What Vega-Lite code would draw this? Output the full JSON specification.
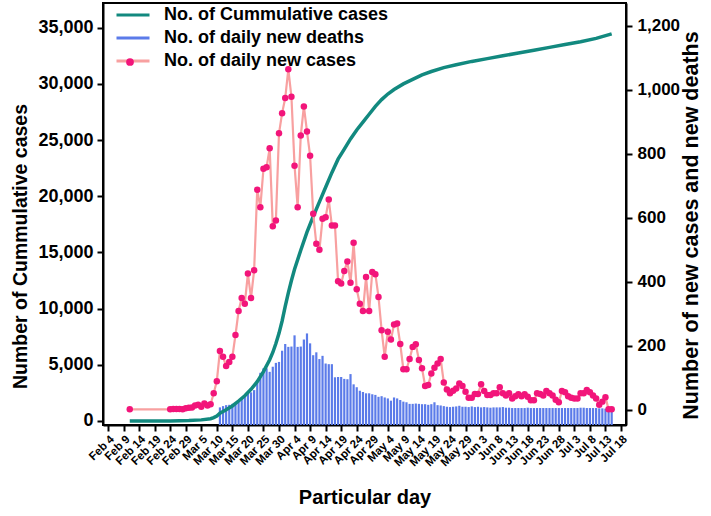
{
  "$schema": "https://vega.github.io/schema/vega-lite/v6.json",
  "width": 523,
  "height": 422,
  "autosize": {"type": "none"},
  "padding": {"left": 103, "top": 3, "right": 85, "bottom": 91},
  "background": "white",
  "config": {
    "view": {"stroke": "black", "strokeWidth": 2},
    "font": "Liberation Sans",
    "axis": {"domainColor": "black", "domainWidth": 2, "tickColor": "black", "tickWidth": 2, "tickSize": 6, "labelColor": "black", "labelFont": "Liberation Sans", "labelFontWeight": "bold", "titleFont": "Liberation Sans", "titleFontWeight": "bold", "titleColor": "black", "grid": false}
  },
  "datasets": {
    "cases": [
      {"date": "2020-02-11", "cases": 2},
      {"date": "2020-02-24", "cases": 2}, {"date": "2020-02-25", "cases": 3}, {"date": "2020-02-26", "cases": 3}, {"date": "2020-02-27", "cases": 3}, {"date": "2020-02-28", "cases": 2}, {"date": "2020-02-29", "cases": 5},
      {"date": "2020-03-01", "cases": 7}, {"date": "2020-03-02", "cases": 8}, {"date": "2020-03-03", "cases": 14}, {"date": "2020-03-04", "cases": 16}, {"date": "2020-03-05", "cases": 10}, {"date": "2020-03-06", "cases": 20}, {"date": "2020-03-07", "cases": 14}, {"date": "2020-03-08", "cases": 18}, {"date": "2020-03-09", "cases": 52}, {"date": "2020-03-10", "cases": 90},
      {"date": "2020-03-11", "cases": 184}, {"date": "2020-03-12", "cases": 166}, {"date": "2020-03-13", "cases": 137}, {"date": "2020-03-14", "cases": 150}, {"date": "2020-03-15", "cases": 166}, {"date": "2020-03-16", "cases": 234}, {"date": "2020-03-17", "cases": 309}, {"date": "2020-03-18", "cases": 350}, {"date": "2020-03-19", "cases": 332}, {"date": "2020-03-20", "cases": 426},
      {"date": "2020-03-21", "cases": 350}, {"date": "2020-03-22", "cases": 436}, {"date": "2020-03-23", "cases": 688}, {"date": "2020-03-24", "cases": 633}, {"date": "2020-03-25", "cases": 753}, {"date": "2020-03-26", "cases": 758}, {"date": "2020-03-27", "cases": 817}, {"date": "2020-03-28", "cases": 574}, {"date": "2020-03-29", "cases": 592}, {"date": "2020-03-30", "cases": 864}, {"date": "2020-03-31", "cases": 927},
      {"date": "2020-04-01", "cases": 974}, {"date": "2020-04-02", "cases": 1064}, {"date": "2020-04-03", "cases": 978}, {"date": "2020-04-04", "cases": 763}, {"date": "2020-04-05", "cases": 633}, {"date": "2020-04-06", "cases": 857}, {"date": "2020-04-07", "cases": 948}, {"date": "2020-04-08", "cases": 870}, {"date": "2020-04-09", "cases": 794}, {"date": "2020-04-10", "cases": 613},
      {"date": "2020-04-11", "cases": 519}, {"date": "2020-04-12", "cases": 500}, {"date": "2020-04-13", "cases": 597}, {"date": "2020-04-14", "cases": 602}, {"date": "2020-04-15", "cases": 657}, {"date": "2020-04-16", "cases": 576}, {"date": "2020-04-17", "cases": 576}, {"date": "2020-04-18", "cases": 402}, {"date": "2020-04-19", "cases": 395}, {"date": "2020-04-20", "cases": 434},
      {"date": "2020-04-21", "cases": 464}, {"date": "2020-04-22", "cases": 397}, {"date": "2020-04-23", "cases": 522}, {"date": "2020-04-24", "cases": 377}, {"date": "2020-04-25", "cases": 332}, {"date": "2020-04-26", "cases": 309}, {"date": "2020-04-27", "cases": 415}, {"date": "2020-04-28", "cases": 309}, {"date": "2020-04-29", "cases": 431}, {"date": "2020-04-30", "cases": 424},
      {"date": "2020-05-01", "cases": 353}, {"date": "2020-05-02", "cases": 249}, {"date": "2020-05-03", "cases": 166}, {"date": "2020-05-04", "cases": 244}, {"date": "2020-05-05", "cases": 220}, {"date": "2020-05-06", "cases": 267}, {"date": "2020-05-07", "cases": 270}, {"date": "2020-05-08", "cases": 206}, {"date": "2020-05-09", "cases": 127}, {"date": "2020-05-10", "cases": 127},
      {"date": "2020-05-11", "cases": 159}, {"date": "2020-05-12", "cases": 197}, {"date": "2020-05-13", "cases": 205}, {"date": "2020-05-14", "cases": 156}, {"date": "2020-05-15", "cases": 130}, {"date": "2020-05-16", "cases": 75}, {"date": "2020-05-17", "cases": 78}, {"date": "2020-05-18", "cases": 114}, {"date": "2020-05-19", "cases": 132}, {"date": "2020-05-20", "cases": 145},
      {"date": "2020-05-21", "cases": 159}, {"date": "2020-05-22", "cases": 86}, {"date": "2020-05-23", "cases": 64}, {"date": "2020-05-24", "cases": 52}, {"date": "2020-05-25", "cases": 60}, {"date": "2020-05-26", "cases": 67}, {"date": "2020-05-27", "cases": 83}, {"date": "2020-05-28", "cases": 75}, {"date": "2020-05-29", "cases": 57}, {"date": "2020-05-30", "cases": 38}, {"date": "2020-05-31", "cases": 38},
      {"date": "2020-06-01", "cases": 50}, {"date": "2020-06-02", "cases": 50}, {"date": "2020-06-03", "cases": 80}, {"date": "2020-06-04", "cases": 59}, {"date": "2020-06-05", "cases": 47}, {"date": "2020-06-06", "cases": 47}, {"date": "2020-06-07", "cases": 52}, {"date": "2020-06-08", "cases": 52}, {"date": "2020-06-09", "cases": 71}, {"date": "2020-06-10", "cases": 52},
      {"date": "2020-06-11", "cases": 45}, {"date": "2020-06-12", "cases": 52}, {"date": "2020-06-13", "cases": 36}, {"date": "2020-06-14", "cases": 43}, {"date": "2020-06-15", "cases": 49}, {"date": "2020-06-16", "cases": 43}, {"date": "2020-06-17", "cases": 49}, {"date": "2020-06-18", "cases": 41}, {"date": "2020-06-19", "cases": 30}, {"date": "2020-06-20", "cases": 30},
      {"date": "2020-06-21", "cases": 52}, {"date": "2020-06-22", "cases": 50}, {"date": "2020-06-23", "cases": 45}, {"date": "2020-06-24", "cases": 59}, {"date": "2020-06-25", "cases": 52}, {"date": "2020-06-26", "cases": 45}, {"date": "2020-06-27", "cases": 32}, {"date": "2020-06-28", "cases": 24}, {"date": "2020-06-29", "cases": 59}, {"date": "2020-06-30", "cases": 55},
      {"date": "2020-07-01", "cases": 43}, {"date": "2020-07-02", "cases": 38}, {"date": "2020-07-03", "cases": 36}, {"date": "2020-07-04", "cases": 36}, {"date": "2020-07-05", "cases": 52}, {"date": "2020-07-06", "cases": 52}, {"date": "2020-07-07", "cases": 62}, {"date": "2020-07-08", "cases": 55}, {"date": "2020-07-09", "cases": 45}, {"date": "2020-07-10", "cases": 36},
      {"date": "2020-07-11", "cases": 16}, {"date": "2020-07-12", "cases": 26}, {"date": "2020-07-13", "cases": 40}, {"date": "2020-07-14", "cases": 2}, {"date": "2020-07-15", "cases": 2}
    ],
    "deaths": [
      {"date": "2020-03-11", "deaths": 8}, {"date": "2020-03-12", "deaths": 12}, {"date": "2020-03-13", "deaths": 15}, {"date": "2020-03-14", "deaths": 16}, {"date": "2020-03-15", "deaths": 19}, {"date": "2020-03-16", "deaths": 23}, {"date": "2020-03-17", "deaths": 31}, {"date": "2020-03-18", "deaths": 36}, {"date": "2020-03-19", "deaths": 41}, {"date": "2020-03-20", "deaths": 50},
      {"date": "2020-03-21", "deaths": 55}, {"date": "2020-03-22", "deaths": 62}, {"date": "2020-03-23", "deaths": 85}, {"date": "2020-03-24", "deaths": 116}, {"date": "2020-03-25", "deaths": 130}, {"date": "2020-03-26", "deaths": 130}, {"date": "2020-03-27", "deaths": 119}, {"date": "2020-03-28", "deaths": 135}, {"date": "2020-03-29", "deaths": 147}, {"date": "2020-03-30", "deaths": 150}, {"date": "2020-03-31", "deaths": 185},
      {"date": "2020-04-01", "deaths": 206}, {"date": "2020-04-02", "deaths": 197}, {"date": "2020-04-03", "deaths": 198}, {"date": "2020-04-04", "deaths": 233}, {"date": "2020-04-05", "deaths": 197}, {"date": "2020-04-06", "deaths": 198}, {"date": "2020-04-07", "deaths": 220}, {"date": "2020-04-08", "deaths": 239}, {"date": "2020-04-09", "deaths": 208}, {"date": "2020-04-10", "deaths": 171},
      {"date": "2020-04-11", "deaths": 180}, {"date": "2020-04-12", "deaths": 159}, {"date": "2020-04-13", "deaths": 169}, {"date": "2020-04-14", "deaths": 145}, {"date": "2020-04-15", "deaths": 143}, {"date": "2020-04-16", "deaths": 143}, {"date": "2020-04-17", "deaths": 102}, {"date": "2020-04-18", "deaths": 103}, {"date": "2020-04-19", "deaths": 103}, {"date": "2020-04-20", "deaths": 97},
      {"date": "2020-04-21", "deaths": 96}, {"date": "2020-04-22", "deaths": 112}, {"date": "2020-04-23", "deaths": 80}, {"date": "2020-04-24", "deaths": 71}, {"date": "2020-04-25", "deaths": 60}, {"date": "2020-04-26", "deaths": 56}, {"date": "2020-04-27", "deaths": 52}, {"date": "2020-04-28", "deaths": 52}, {"date": "2020-04-29", "deaths": 49}, {"date": "2020-04-30", "deaths": 47},
      {"date": "2020-05-01", "deaths": 41}, {"date": "2020-05-02", "deaths": 43}, {"date": "2020-05-03", "deaths": 39}, {"date": "2020-05-04", "deaths": 36}, {"date": "2020-05-05", "deaths": 29}, {"date": "2020-05-06", "deaths": 39}, {"date": "2020-05-07", "deaths": 36}, {"date": "2020-05-08", "deaths": 31}, {"date": "2020-05-09", "deaths": 26}, {"date": "2020-05-10", "deaths": 24},
      {"date": "2020-05-11", "deaths": 19}, {"date": "2020-05-12", "deaths": 19}, {"date": "2020-05-13", "deaths": 20}, {"date": "2020-05-14", "deaths": 19}, {"date": "2020-05-15", "deaths": 18}, {"date": "2020-05-16", "deaths": 18}, {"date": "2020-05-17", "deaths": 16}, {"date": "2020-05-18", "deaths": 18}, {"date": "2020-05-19", "deaths": 24}, {"date": "2020-05-20", "deaths": 15},
      {"date": "2020-05-21", "deaths": 14}, {"date": "2020-05-22", "deaths": 12}, {"date": "2020-05-23", "deaths": 10}, {"date": "2020-05-24", "deaths": 9}, {"date": "2020-05-25", "deaths": 10}, {"date": "2020-05-26", "deaths": 11}, {"date": "2020-05-27", "deaths": 13}, {"date": "2020-05-28", "deaths": 10}, {"date": "2020-05-29", "deaths": 10}, {"date": "2020-05-30", "deaths": 9}, {"date": "2020-05-31", "deaths": 11},
      {"date": "2020-06-01", "deaths": 9}, {"date": "2020-06-02", "deaths": 10}, {"date": "2020-06-03", "deaths": 8}, {"date": "2020-06-04", "deaths": 9}, {"date": "2020-06-05", "deaths": 8}, {"date": "2020-06-06", "deaths": 7}, {"date": "2020-06-07", "deaths": 8}, {"date": "2020-06-08", "deaths": 8}, {"date": "2020-06-09", "deaths": 8}, {"date": "2020-06-10", "deaths": 9},
      {"date": "2020-06-11", "deaths": 7}, {"date": "2020-06-12", "deaths": 7}, {"date": "2020-06-13", "deaths": 6}, {"date": "2020-06-14", "deaths": 6}, {"date": "2020-06-15", "deaths": 6}, {"date": "2020-06-16", "deaths": 6}, {"date": "2020-06-17", "deaths": 6}, {"date": "2020-06-18", "deaths": 7}, {"date": "2020-06-19", "deaths": 6}, {"date": "2020-06-20", "deaths": 6},
      {"date": "2020-06-21", "deaths": 6}, {"date": "2020-06-22", "deaths": 6}, {"date": "2020-06-23", "deaths": 6}, {"date": "2020-06-24", "deaths": 6}, {"date": "2020-06-25", "deaths": 6}, {"date": "2020-06-26", "deaths": 6}, {"date": "2020-06-27", "deaths": 6}, {"date": "2020-06-28", "deaths": 6}, {"date": "2020-06-29", "deaths": 6}, {"date": "2020-06-30", "deaths": 6},
      {"date": "2020-07-01", "deaths": 6}, {"date": "2020-07-02", "deaths": 6}, {"date": "2020-07-03", "deaths": 6}, {"date": "2020-07-04", "deaths": 6}, {"date": "2020-07-05", "deaths": 7}, {"date": "2020-07-06", "deaths": 7}, {"date": "2020-07-07", "deaths": 6}, {"date": "2020-07-08", "deaths": 6}, {"date": "2020-07-09", "deaths": 6}, {"date": "2020-07-10", "deaths": 6},
      {"date": "2020-07-11", "deaths": 5}, {"date": "2020-07-12", "deaths": 5}, {"date": "2020-07-13", "deaths": 4}, {"date": "2020-07-14", "deaths": 3}, {"date": "2020-07-15", "deaths": 3}
    ],
    "cum": [
      {"date": "2020-02-11", "total": 3}, {"date": "2020-02-24", "total": 10}, {"date": "2020-03-01", "total": 40}, {"date": "2020-03-05", "total": 100}, {"date": "2020-03-08", "total": 200}, {"date": "2020-03-09", "total": 300}, {"date": "2020-03-10", "total": 450}, {"date": "2020-03-11", "total": 700},
      {"date": "2020-03-13", "total": 1000}, {"date": "2020-03-15", "total": 1340}, {"date": "2020-03-17", "total": 1780}, {"date": "2020-03-19", "total": 2250}, {"date": "2020-03-21", "total": 2820}, {"date": "2020-03-23", "total": 3500}, {"date": "2020-03-25", "total": 4390}, {"date": "2020-03-27", "total": 5450},
      {"date": "2020-03-28", "total": 6100}, {"date": "2020-03-29", "total": 6900}, {"date": "2020-03-30", "total": 7800}, {"date": "2020-03-31", "total": 8900}, {"date": "2020-04-01", "total": 10200}, {"date": "2020-04-02", "total": 11400}, {"date": "2020-04-03", "total": 12500}, {"date": "2020-04-04", "total": 13500},
      {"date": "2020-04-06", "total": 15200}, {"date": "2020-04-08", "total": 16800}, {"date": "2020-04-10", "total": 18200}, {"date": "2020-04-12", "total": 19500}, {"date": "2020-04-14", "total": 20800}, {"date": "2020-04-16", "total": 22100}, {"date": "2020-04-18", "total": 23300}, {"date": "2020-04-20", "total": 24200},
      {"date": "2020-04-22", "total": 25100}, {"date": "2020-04-24", "total": 25900}, {"date": "2020-04-26", "total": 26600}, {"date": "2020-04-28", "total": 27300}, {"date": "2020-04-30", "total": 28000}, {"date": "2020-05-02", "total": 28600}, {"date": "2020-05-04", "total": 29100}, {"date": "2020-05-06", "total": 29500},
      {"date": "2020-05-09", "total": 30000}, {"date": "2020-05-12", "total": 30400}, {"date": "2020-05-15", "total": 30800}, {"date": "2020-05-18", "total": 31100}, {"date": "2020-05-22", "total": 31450}, {"date": "2020-05-26", "total": 31700}, {"date": "2020-05-31", "total": 32000},
      {"date": "2020-06-05", "total": 32250}, {"date": "2020-06-10", "total": 32500}, {"date": "2020-06-15", "total": 32750}, {"date": "2020-06-20", "total": 33000}, {"date": "2020-06-25", "total": 33250}, {"date": "2020-06-30", "total": 33500}, {"date": "2020-07-05", "total": 33750}, {"date": "2020-07-10", "total": 34050}, {"date": "2020-07-15", "total": 34450}
    ]
  },
  "encoding": {
    "x": {
      "field": "date",
      "type": "temporal",
      "title": "Particular day",
      "scale": {"type": "utc", "domain": [{"year": 2020, "month": "feb", "date": 4, "utc": true}, {"year": 2020, "month": "jul", "date": 18, "utc": true}]},
      "axis": {
        "labelExpr": "utcFormat(datum.value, '%b %-d')",
        "labelAngle": -45,
        "labelFontSize": 11.5,
        "labelPadding": 2,
        "titleFontSize": 20,
        "titlePadding": 19,
        "labelOverlap": false,
        "values": [
          {"year": 2020, "month": "feb", "date": 4, "utc": true}, {"year": 2020, "month": "feb", "date": 9, "utc": true}, {"year": 2020, "month": "feb", "date": 14, "utc": true}, {"year": 2020, "month": "feb", "date": 19, "utc": true}, {"year": 2020, "month": "feb", "date": 24, "utc": true}, {"year": 2020, "month": "feb", "date": 29, "utc": true},
          {"year": 2020, "month": "mar", "date": 5, "utc": true}, {"year": 2020, "month": "mar", "date": 10, "utc": true}, {"year": 2020, "month": "mar", "date": 15, "utc": true}, {"year": 2020, "month": "mar", "date": 20, "utc": true}, {"year": 2020, "month": "mar", "date": 25, "utc": true}, {"year": 2020, "month": "mar", "date": 30, "utc": true},
          {"year": 2020, "month": "apr", "date": 4, "utc": true}, {"year": 2020, "month": "apr", "date": 9, "utc": true}, {"year": 2020, "month": "apr", "date": 14, "utc": true}, {"year": 2020, "month": "apr", "date": 19, "utc": true}, {"year": 2020, "month": "apr", "date": 24, "utc": true}, {"year": 2020, "month": "apr", "date": 29, "utc": true},
          {"year": 2020, "month": "may", "date": 4, "utc": true}, {"year": 2020, "month": "may", "date": 9, "utc": true}, {"year": 2020, "month": "may", "date": 14, "utc": true}, {"year": 2020, "month": "may", "date": 19, "utc": true}, {"year": 2020, "month": "may", "date": 24, "utc": true}, {"year": 2020, "month": "may", "date": 29, "utc": true},
          {"year": 2020, "month": "jun", "date": 3, "utc": true}, {"year": 2020, "month": "jun", "date": 8, "utc": true}, {"year": 2020, "month": "jun", "date": 13, "utc": true}, {"year": 2020, "month": "jun", "date": 18, "utc": true}, {"year": 2020, "month": "jun", "date": 23, "utc": true}, {"year": 2020, "month": "jun", "date": 28, "utc": true},
          {"year": 2020, "month": "jul", "date": 3, "utc": true}, {"year": 2020, "month": "jul", "date": 8, "utc": true}, {"year": 2020, "month": "jul", "date": 13, "utc": true}, {"year": 2020, "month": "jul", "date": 18, "utc": true}
        ]
      }
    }
  },
  "layer": [
    {
      "data": {"name": "deaths"},
      "mark": {"type": "bar", "size": 2.2},
      "encoding": {
        "y": {"field": "deaths", "type": "quantitative", "scale": {"domain": [-47, 1271], "nice": false, "zero": false},
          "axis": {"orient": "right", "values": [0, 200, 400, 600, 800, 1000, 1200], "labelExpr": "format(datum.value, ',')", "labelFontSize": 17, "labelPadding": 5, "title": "Number of new cases and new deaths", "titleFontSize": 21.5, "titleAngle": 270, "titleBaseline": "top", "titlePadding": 1, "titleY": 222}},
        "y2": {"datum": -47},
        "color": {"datum": "No. of daily new deaths", "type": "nominal",
          "scale": {"domain": ["No. of Cummulative cases", "No. of daily new deaths", "No. of daily new cases"], "range": ["#12897f", "#5b7be9", "#f8a0a0"]},
          "legend": {"orient": "none", "legendX": 21, "legendY": 3, "title": null, "symbolType": "M-3,0H3", "symbolSize": 121, "symbolStrokeWidth": 3, "labelFontSize": 18, "labelFont": "Liberation Sans", "labelFontWeight": "bold", "labelColor": "black", "labelOffset": 22, "rowPadding": 5, "labelLimit": 400, "padding": 0,
            "encode": {"symbols": {"update": {"fill": {"value": "transparent"}, "stroke": {"scale": "color", "field": "value"}, "strokeWidth": {"value": 3}}}}}}
      }
    },
    {
      "data": {"name": "cum"},
      "mark": {"type": "line", "strokeWidth": 3.5},
      "encoding": {
        "y": {"field": "total", "type": "quantitative", "scale": {"domain": [-356, 37198], "nice": false, "zero": false},
          "axis": {"orient": "left", "values": [0, 5000, 10000, 15000, 20000, 25000, 30000, 35000], "labelExpr": "format(datum.value, ',')", "labelFontSize": 18, "labelPadding": 4, "title": "Number of Cummulative cases", "titleFontSize": 19.5, "titlePadding": 7, "titleY": 243}},
        "color": {"datum": "No. of Cummulative cases", "type": "nominal"}
      }
    },
    {
      "data": {"name": "cases"},
      "mark": {"type": "line", "strokeWidth": 2.2},
      "encoding": {
        "y": {"field": "cases", "type": "quantitative", "scale": {"domain": [-47, 1271], "nice": false, "zero": false}, "axis": null},
        "color": {"datum": "No. of daily new cases", "type": "nominal"}
      }
    },
    {
      "data": {"name": "cases"},
      "mark": {"type": "point", "filled": true, "size": 42, "color": "#f2157a", "opacity": 1},
      "encoding": {
        "y": {"field": "cases", "type": "quantitative", "scale": {"domain": [-47, 1271], "nice": false, "zero": false}, "axis": null},
        "shape": {"datum": "No. of daily new cases", "type": "nominal", "scale": {"range": ["circle"]},
          "legend": {"orient": "none", "legendX": 23, "legendY": 55, "title": null, "labelExpr": "''", "labelFontSize": 1, "symbolSize": 60, "symbolFillColor": "#f2157a", "symbolStrokeWidth": 0, "padding": 0}}
      }
    }
  ],
  "resolve": {"scale": {"y": "independent"}}
}
